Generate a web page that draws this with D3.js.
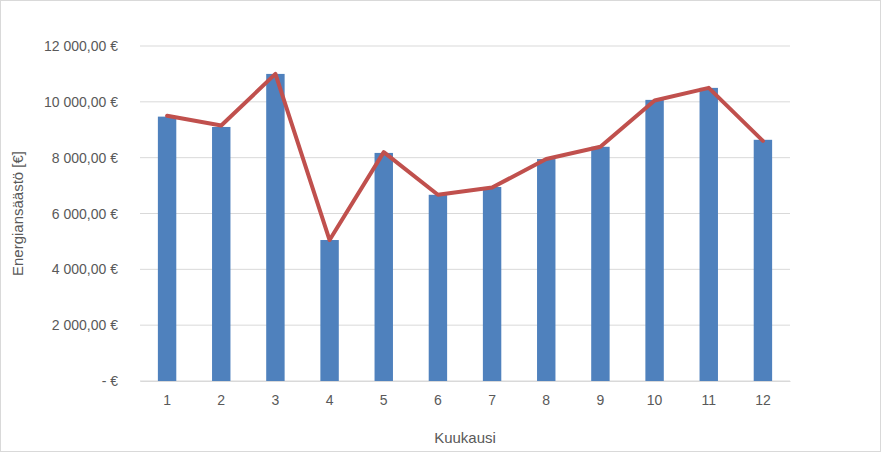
<!DOCTYPE html>
<html>
<head>
<meta charset="utf-8">
<script src="https://cdn.jsdelivr.net/npm/d3@7"></script>
<style>
  body { margin: 0; background: #fff; }
  svg { font-family: "Liberation Sans", "DejaVu Sans", sans-serif; }
</style>
</head>
<body>
<div id="chart"></div>
<script>
const months = ['1', '2', '3', '4', '5', '6', '7', '8', '9', '10', '11', '12'];
const savings = [9470, 9100, 11000, 5050, 8170, 6670, 6950, 7950, 8390, 10070, 10500, 8640];
const trend = [9500, 9150, 11000, 5050, 8200, 6670, 6930, 7950, 8390, 10050, 10500, 8600];
const yTicks = [0, 2000, 4000, 6000, 8000, 10000, 12000];

const width = 881, height = 452;
const margin = { top: 46, right: 91, bottom: 71, left: 140 };

const svg = d3.select('#chart').append('svg')
  .attr('width', width)
  .attr('height', height);

// chart border
svg.append('rect')
  .attr('x', 0.5).attr('y', 0.5)
  .attr('width', width - 1).attr('height', height - 1)
  .attr('fill', '#fff').attr('stroke', '#d9d9d9');

const x = d3.scaleBand()
  .domain(months)
  .range([margin.left, width - margin.right])
  .paddingInner(0.66).paddingOuter(0.33);

const y = d3.scaleLinear()
  .domain([0, 12000])
  .range([height - margin.bottom, margin.top]);

const fmt = v => v === 0 ? '-   €'
  : d3.format(',.2f')(v).replace(/,/g, ' ').replace('.', ',') + ' €';

// gridlines
svg.append('g')
  .selectAll('line')
  .data(yTicks)
  .enter()
  .append('line')
  .attr('x1', margin.left).attr('x2', width - margin.right)
  .attr('y1', d => y(d)).attr('y2', d => y(d))
  .attr('stroke', '#d9d9d9');

// y labels
svg.append('g')
  .selectAll('text')
  .data(yTicks)
  .enter()
  .append('text')
  .attr('x', margin.left - 22)
  .attr('y', d => y(d) + 5)
  .attr('text-anchor', 'end')
  .attr('font-size', 14)
  .attr('fill', '#595959')
  .text(fmt);

// bars
svg.append('g')
  .selectAll('rect')
  .data(savings)
  .enter()
  .append('rect')
  .attr('x', (d, i) => x(months[i]))
  .attr('y', d => y(d))
  .attr('width', x.bandwidth())
  .attr('height', d => y(0) - y(d))
  .attr('fill', '#4f81bd');

// line
const line = d3.line()
  .x((d, i) => x(months[i]) + x.bandwidth() / 2)
  .y(d => y(d));

svg.append('path')
  .datum(trend)
  .attr('d', line)
  .attr('fill', 'none')
  .attr('stroke', '#c0504d')
  .attr('stroke-width', 4)
  .attr('stroke-linejoin', 'round')
  .attr('stroke-linecap', 'round');

// x axis
const xAxis = svg.append('g')
  .attr('transform', `translate(0,${y(0)})`)
  .call(d3.axisBottom(x).tickSize(0).tickPadding(14));
xAxis.select('.domain').attr('stroke', '#d9d9d9');
xAxis.selectAll('text').attr('font-size', 14).attr('fill', '#595959');

// axis titles
svg.append('text')
  .attr('x', (margin.left + width - margin.right) / 2)
  .attr('y', 443)
  .attr('text-anchor', 'middle')
  .attr('font-size', 15)
  .attr('fill', '#595959')
  .text('Kuukausi');

svg.append('text')
  .attr('transform', `translate(23,${(margin.top + height - margin.bottom) / 2}) rotate(-90)`)
  .attr('text-anchor', 'middle')
  .attr('font-size', 15)
  .attr('fill', '#595959')
  .text('Energiansäästö [€]');
</script>
</body>
</html>
